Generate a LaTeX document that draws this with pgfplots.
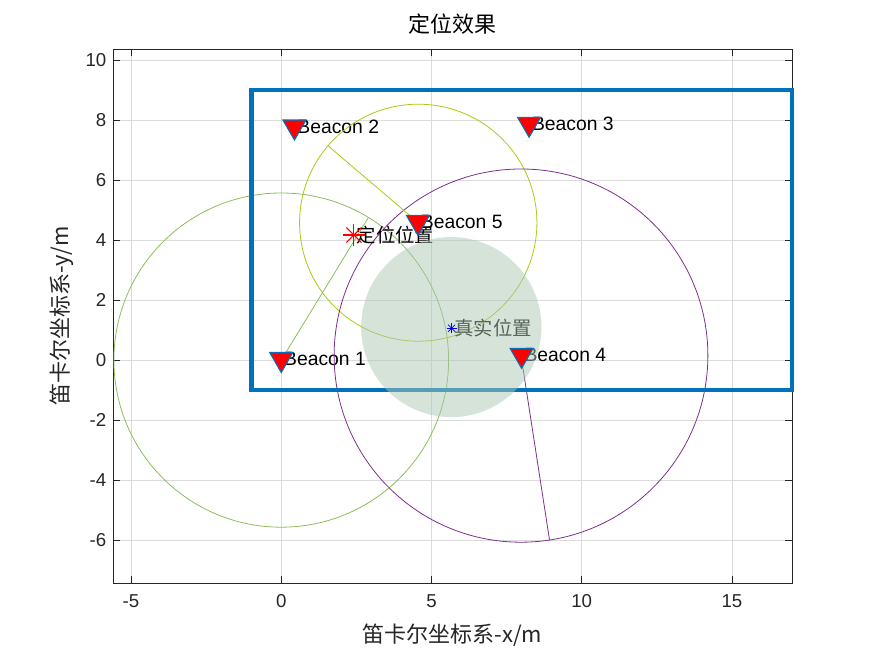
\documentclass[border=0pt]{standalone}
\usepackage{fontspec}
\setmainfont{Liberation Sans}
\newfontfamily\cjk{Noto Sans CJK SC}
\usepackage{pgfplots}
\pgfplotsset{compat=1.18}
\definecolor{mblue}{rgb}{0,0.447,0.741}
\definecolor{cgreen}{rgb}{0.55,0.74,0.35}
\definecolor{cyellow}{rgb}{0.65,0.80,0.08}
\definecolor{cpurple}{rgb}{0.494,0.184,0.556}
\definecolor{cshade}{RGB}{171,200,180}
\definecolor{axgray}{rgb}{0.15,0.15,0.15}
\begin{document}
\begin{tikzpicture}
\begin{axis}[
  name=ax,
  scale only axis, width=509.25pt, height=400.5pt,
  xmin=-5.6, xmax=17, ymin=-7.43, ymax=10.37,
  xtick={-5,0,5,10,15}, ytick={-6,-4,-2,0,2,4,6,8,10},
  grid=major, major grid style={draw=black!14, line width=0.5pt},
  axis line style={draw=axgray, line width=0.6pt},
  tick style={draw=axgray, line width=0.6pt},
  major tick length=5pt, tick align=inside,
  tick label style={font=\fontsize{14}{16}\selectfont, text=axgray},
  /pgf/number format/assume math mode=true,
  xticklabel style={yshift=-5pt},
  yticklabel style={xshift=-1.5pt},
  title={\cjk 定位效果},
  title style={at={([yshift=12.75pt]axis description cs:0.5,1)}, anchor=center, font=\fontsize{16.5}{18}\selectfont, text=black},
  xlabel={\cjk 笛卡尔坐标系-x/m},
  xlabel style={at={([yshift=-39pt]axis description cs:0.5,0)}, anchor=center, font=\fontsize{16.5}{18}\selectfont, text=axgray},
  ylabel={\cjk 笛卡尔坐标系-y/m},
  ylabel style={at={([xshift=-38.25pt]axis description cs:0,0.5)}, anchor=center, rotate=0, font=\fontsize{16.5}{18}\selectfont, text=axgray},
  clip=false,
]
% beacons
\addplot[only marks, mark=triangle*, mark size=10pt,
  mark options={rotate=180, fill=red, draw=mblue, line width=0.8pt}]
  coordinates {(0,0.03) (0.44,7.78) (8.25,7.87) (8.0,0.17) (4.55,4.6)};
\node[anchor=west, inner sep=2pt, font=\fontsize{14.5}{16}\selectfont] at (axis cs:0,0.03) {Beacon 1};
\node[anchor=west, inner sep=2pt, font=\fontsize{14.5}{16}\selectfont] at (axis cs:0.44,7.78) {Beacon 2};
\node[anchor=west, inner sep=2pt, font=\fontsize{14.5}{16}\selectfont] at (axis cs:8.25,7.87) {Beacon 3};
\node[anchor=west, inner sep=2pt, font=\fontsize{14.5}{16}\selectfont] at (axis cs:8.0,0.17) {Beacon 4};
\node[anchor=west, inner sep=2pt, font=\fontsize{14.5}{16}\selectfont] at (axis cs:4.55,4.6) {Beacon 5};
% range circles
\draw[cgreen, line width=0.6pt] (axis cs:0,0) circle [radius=5.57];
\draw[cyellow, line width=0.6pt] (axis cs:4.56,4.58) circle [radius=3.95];
\draw[cpurple, line width=0.6pt] (axis cs:7.98,0.15) circle [radius=6.22];
\addplot[cgreen, line width=0.6pt] coordinates {(0,0) (2.90,4.75)};
\addplot[cyellow, line width=0.6pt] coordinates {(4.56,4.58) (1.55,7.15)};
\addplot[cpurple, line width=0.6pt] coordinates {(7.98,0.15) (8.93,-6.0)};
% area
\addplot[mblue, line width=3.5pt, line join=miter] coordinates {(4,-1) (17,-1) (17,9) (-1,9) (-1,-1) (4,-1)};
% estimated position
\addplot[only marks, red, mark=+, mark size=8pt, line width=0.8pt] coordinates {(2.42,4.17)};
\addplot[only marks, red, mark=x, mark size=8pt, line width=0.8pt] coordinates {(2.42,4.17)};
\node[anchor=west, inner sep=2pt, font=\cjk\fontsize{14.5}{16}\selectfont] at (axis cs:2.42,4.17) {定位位置};
% true position
\addplot[only marks, blue, mark=+, mark size=3.8pt, line width=0.5pt] coordinates {(5.67,1.06)};
\addplot[only marks, blue, mark=x, mark size=3.8pt, line width=0.5pt] coordinates {(5.67,1.06)};
\node[anchor=west, inner sep=2pt, font=\cjk\fontsize{14.5}{16}\selectfont] at (axis cs:5.67,1.06) {真实位置};
\fill[cshade, fill opacity=0.5] (axis cs:5.66,1.1) circle [radius=3.0];
\end{axis}
\path (ax.south west) ++(-84.75pt,-54.75pt) rectangle ++(656.25pt,492pt);
\end{tikzpicture}
\end{document}
